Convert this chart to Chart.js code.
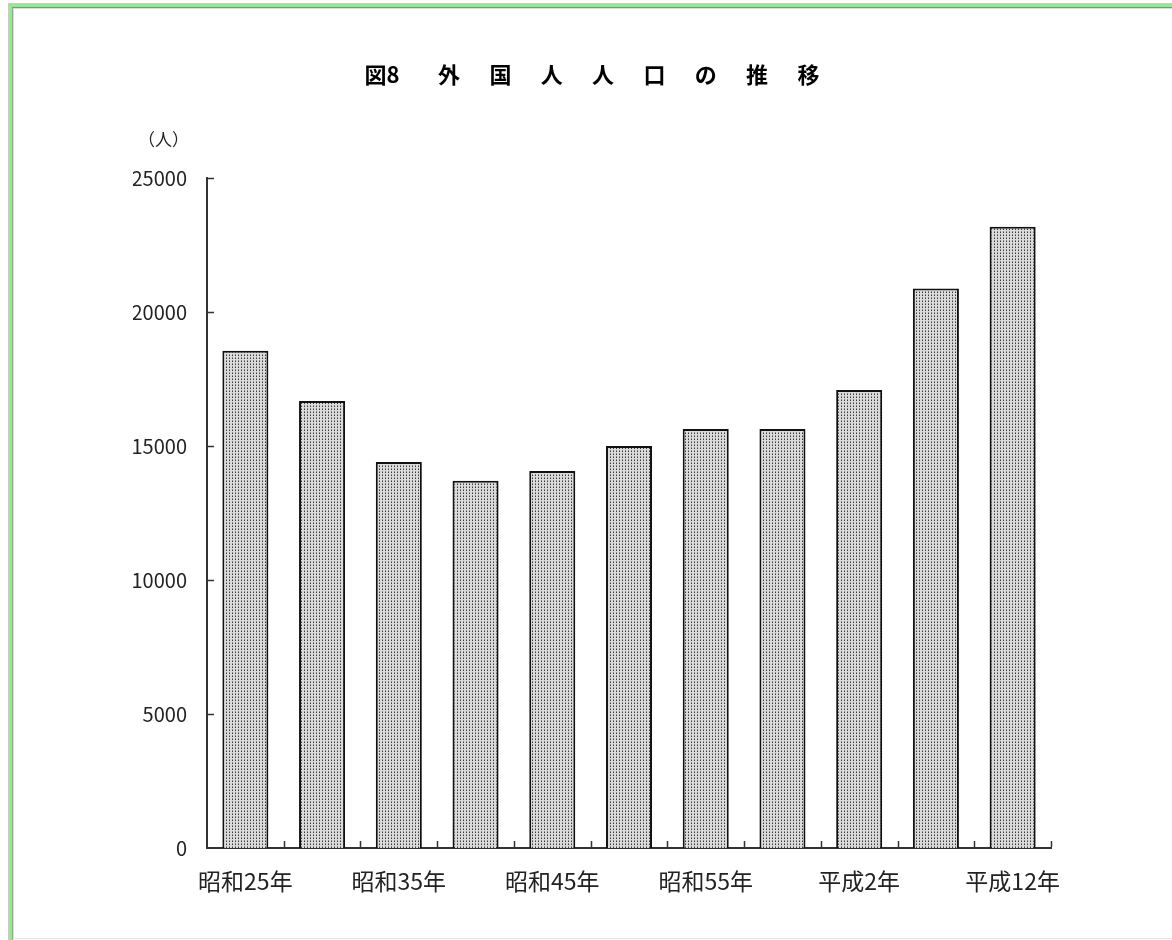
<!DOCTYPE html>
<html lang="ja">
<head>
<meta charset="utf-8">
<title>外国人人口の推移</title>
<script src="https://cdn.jsdelivr.net/npm/chart.js@4.4.1/dist/chart.umd.min.js"></script>
<style>
    html, body { margin: 0; padding: 0; background: #fff; }
    #wrap { position: relative; width: 1172px; height: 940px; }
    #myChart { position: absolute; left: 0; top: 0; }
    /* рамка страницы */
    .frame { position: absolute; pointer-events: none; box-sizing: border-box; }
    #f1 { left: 8px; top: 3px; right: 0; bottom: 0; border-top: 1px solid #c4d0b8; border-left: 2px solid #c4d0b8; }
    #f2 { left: 10px; top: 4px; right: 0; bottom: 0; border-top: 3px solid #88f088; border-left: 2px solid #88f088; }
    #f3 { left: 12px; top: 7px; right: 0; bottom: 0; border-top: 1px solid #8c8c8c; border-left: 1px solid #a0a0a0; }
    #f4 { left: 13px; top: 8px; right: 0; bottom: 1px; border-top: 1px solid #dcdcdc; border-left: 1px solid #dcdcdc; border-bottom: 1px solid #e4e4e4; }
</style>
</head>
<body>
<div id="wrap">
    <canvas id="myChart" width="1172" height="940"></canvas>
    <div class="frame" id="f1"></div>
    <div class="frame" id="f2"></div>
    <div class="frame" id="f3"></div>
    <div class="frame" id="f4"></div>
</div>
<script>
    // данные
    const years = ['昭和25年', '昭和30年', '昭和35年', '昭和40年', '昭和45年', '昭和50年',
                   '昭和55年', '昭和60年', '平成2年', '平成7年', '平成12年'];
    const population = [18550, 16680, 14400, 13700, 14070, 15000, 15630, 15630, 17090, 20880, 23180];
    const yTicks = [0, 5000, 10000, 15000, 20000, 25000];
    const titleChars = ['外', '国', '人', '人', '口', 'の', '推', '移'];
    const unitText = '（人）';

    const FONT = '"Noto Sans CJK JP", "Liberation Sans", sans-serif';
    // разрядка заголовка: полноширинный пробел + узкий
    const GAP = '\u3000\u2004';
    const titleText = '図8\u3000\u2002\u2005' + titleChars.join(GAP);

    // точечная заливка столбцов
    function dotPattern() {
        const c = document.createElement('canvas');
        c.width = 3; c.height = 3;
        const g = c.getContext('2d');
        g.fillStyle = '#dadada';
        g.fillRect(0, 0, 3, 3);
        g.fillStyle = '#8a8a8a';
        g.fillRect(1, 0, 1, 1);
        g.fillStyle = '#3a3a3a';
        g.fillRect(1, 1, 1, 1);
        return g.createPattern(c, 'repeat');
    }

    // засечки внутрь области графика + подпись единиц
    const innerTicks = {
        id: 'innerTicks',
        afterDraw(chart) {
            const { ctx, chartArea: a, scales: { y } } = chart;
            ctx.save();
            ctx.strokeStyle = '#333';
            ctx.lineWidth = 1.5;
            ctx.beginPath();
            yTicks.forEach(v => {
                if (v === 0) return;
                const py = Math.round(y.getPixelForValue(v)) + 0.5;
                ctx.moveTo(a.left + 1, py);
                ctx.lineTo(a.left + 7, py);
            });
            const w = (a.right - a.left) / years.length;
            for (let k = 1; k <= years.length; k++) {
                const px = Math.round(a.left + k * w) + 0.5;
                ctx.moveTo(px, a.bottom - 1);
                ctx.lineTo(px, a.bottom - 7);
            }
            ctx.stroke();

            ctx.fillStyle = '#222';
            ctx.font = '17px ' + FONT;
            ctx.textAlign = 'right';
            ctx.textBaseline = 'middle';
            ctx.fillText(unitText, a.left - 18, a.top - 38);
            ctx.restore();
        }
    };

    const ctx = document.getElementById('myChart').getContext('2d');
    const myChart = new Chart(ctx, {
        type: 'bar',
        data: {
            labels: years,
            datasets: [{
                data: population,
                backgroundColor: dotPattern(),
                borderColor: '#111',
                borderWidth: 2,
                categoryPercentage: 1.0,
                barPercentage: 0.6
            }]
        },
        plugins: [innerTicks],
        options: {
            responsive: false,
            animation: false,
            events: [],
            layout: {
                padding: { left: 133, right: 121, top: 0, bottom: 0 }
            },
            plugins: {
                legend: { display: false },
                tooltip: { enabled: false },
                title: {
                    display: true,
                    text: titleText,
                    color: '#000',
                    font: { family: FONT, size: 22, weight: 'bold', lineHeight: 1.2 },
                    padding: { top: 61, bottom: 90.6 }
                }
            },
            scales: {
                x: {
                    grid: { display: false, drawTicks: false },
                    border: { color: '#333', width: 2 },
                    afterFit(s) { s.height = 92; },
                    ticks: {
                        autoSkip: false,
                        maxRotation: 0,
                        padding: 19,
                        color: '#222',
                        font: { family: FONT, size: 23 },
                        callback: function(value, index) {
                            return index % 2 === 0 ? years[index] : '';
                        }
                    }
                },
                y: {
                    min: 0,
                    max: 25000,
                    grid: { display: false, drawTicks: false },
                    border: { color: '#333', width: 2 },
                    afterFit(s) { s.width = 74; },
                    afterBuildTicks(s) { s.ticks = yTicks.map(v => ({ value: v })); },
                    ticks: {
                        padding: 20,
                        color: '#222',
                        font: { family: FONT, size: 20 },
                        callback: v => String(v)
                    }
                }
            }
        }
    });
</script>
</body>
</html>
